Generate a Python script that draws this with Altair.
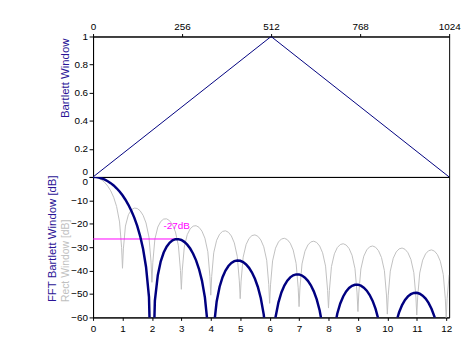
import altair as alt
import pandas as pd

# ---------------- data ----------------
# Top panel: Bartlett window over sample index
win_n = [0, 512, 1024]
win_val = [0.0, 1.0, 0.0]
top_xticks = [0, 256, 512, 768, 1024]
top_yticks = [0, 0.2, 0.4, 0.6, 0.8, 1]

# Bottom panel: rectangular window spectrum [dB] (gray)
rect_x = [0, 0.1, 0.2, 0.3, 0.4, 0.5, 0.6, 0.7, 0.8, 0.9, 0.97,
          1.0, 1.03, 1.1, 1.2, 1.3, 1.4, 1.5, 1.6, 1.7, 1.8, 1.9, 1.97,
          2.0, 2.03, 2.1, 2.2, 2.3, 2.4, 2.5, 2.6, 2.7, 2.8, 2.9, 2.97,
          3.0, 3.03, 3.1, 3.2, 3.3, 3.4, 3.5, 3.6, 3.7, 3.8, 3.9, 3.97,
          4.0, 4.03, 4.1, 4.2, 4.3, 4.4, 4.5, 4.6, 4.7, 4.8, 4.9, 4.97,
          5.0, 5.03, 5.1, 5.2, 5.3, 5.4, 5.5, 5.6, 5.7, 5.8, 5.9, 5.97,
          6.0, 6.03, 6.1, 6.2, 6.3, 6.4, 6.5, 6.6, 6.7, 6.8, 6.9, 6.97,
          7.0, 7.03, 7.1, 7.2, 7.3, 7.4, 7.5, 7.6, 7.7, 7.8, 7.9, 7.97,
          8.0, 8.03, 8.1, 8.2, 8.3, 8.4, 8.5, 8.6, 8.7, 8.8, 8.9, 8.97,
          9.0, 9.03, 9.1, 9.2, 9.3, 9.4, 9.5, 9.6, 9.7, 9.8, 9.9, 9.97,
          10.0, 10.03, 10.1, 10.2, 10.3, 10.4, 10.5, 10.6, 10.7, 10.8, 10.9, 10.97,
          11.0, 11.03, 11.1, 11.2, 11.3, 11.4, 11.5, 11.6, 11.7, 11.8, 11.9, 11.97,
          12.0, 12.03, 12.1]
rect_db = [0.0, -0.14, -0.58, -1.32, -2.42, -3.92, -5.94, -8.68, -12.62, -19.22, -30.21,
           -39.0, -30.73, -20.97, -16.14, -14.06, -13.30, -13.46, -14.46, -16.39, -19.67, -25.72, -36.36,
           -45.0, -36.62, -26.58, -21.41, -19.01, -17.98, -17.90, -18.68, -20.41, -23.50, -29.39, -39.93,
           -48.0, -40.10, -29.97, -24.66, -22.15, -21.01, -20.82, -21.51, -23.14, -26.16, -31.96, -42.45,
           -50.5, -42.58, -32.40, -27.02, -24.45, -23.25, -23.00, -23.64, -25.22, -28.18, -33.94, -44.40,
           -52.0, -44.50, -34.29, -28.88, -26.27, -25.03, -24.75, -25.34, -26.90, -29.83, -35.56, -45.99,
           -54.0, -46.08, -35.85, -30.41, -27.77, -26.50, -26.20, -26.77, -28.30, -31.21, -36.92, -47.33,
           -55.4, -47.41, -37.17, -31.71, -29.05, -27.76, -27.44, -28.00, -29.51, -32.40, -38.09, -48.50,
           -56.0, -48.56, -38.31, -32.84, -30.16, -28.87, -28.53, -29.07, -30.57, -33.45, -39.13, -49.53,
           -57.5, -49.58, -39.32, -33.84, -31.15, -29.84, -29.49, -30.03, -31.52, -34.38, -40.05, -50.44,
           -58.6, -50.50, -40.23, -34.73, -32.04, -30.72, -30.36, -30.89, -32.37, -35.23, -40.89, -51.28,
           -59.0, -51.32, -41.05, -35.54, -32.84, -31.52, -31.15, -31.67, -33.14, -36.00, -41.65, -52.03,
           -61.0, -52.08, -41.80]

# Bottom panel: Bartlett window spectrum [dB] (navy)
bart_x = [0, 0.1, 0.2, 0.3, 0.4, 0.5, 0.6, 0.7, 0.8, 0.9,
          1.0, 1.1, 1.2, 1.3, 1.4, 1.5, 1.6, 1.7, 1.8, 1.9,
          2.0, 2.1, 2.2, 2.3, 2.4, 2.5, 2.6, 2.7, 2.8, 2.9,
          3.0, 3.1, 3.2, 3.3, 3.4, 3.5, 3.6, 3.7, 3.8, 3.9,
          4.0, 4.1, 4.2, 4.3, 4.4, 4.5, 4.6, 4.7, 4.8, 4.9,
          5.0, 5.1, 5.2, 5.3, 5.4, 5.5, 5.6, 5.7, 5.8, 5.9,
          6.0, 6.1, 6.2, 6.3, 6.4, 6.5, 6.6, 6.7, 6.8, 6.9,
          7.0, 7.1, 7.2, 7.3, 7.4, 7.5, 7.6, 7.7, 7.8, 7.9,
          8.0, 8.1, 8.2, 8.3, 8.4, 8.5, 8.6, 8.7, 8.8, 8.9,
          9.0, 9.1, 9.2, 9.3, 9.4, 9.5, 9.6, 9.7, 9.8, 9.9,
          10.0, 10.1, 10.2, 10.3, 10.4, 10.5, 10.6, 10.7, 10.8, 10.9,
          11.0, 11.1, 11.2, 11.3, 11.4, 11.5, 11.6, 11.7, 11.8, 11.9,
          12.0, 12.1]
bart_db = [0.0, -0.06, -0.28, -0.64, -1.16, -1.82, -2.64, -3.64, -4.84, -6.22,
           -7.84, -9.72, -11.88, -14.40, -17.36, -20.90, -25.24, -30.78, -38.44, -51.20,
           -100.0, -52.94, -41.94, -36.02, -32.28, -29.78, -28.12, -27.10, -26.60, -26.56,
           -26.92, -27.72, -28.92, -30.58, -32.78, -35.62, -39.34, -44.28, -51.44, -63.70,
           -100.0, -64.58, -53.16, -46.90, -42.82, -39.98, -38.02, -36.72, -35.96, -35.66,
           -35.80, -36.36, -37.36, -38.82, -40.82, -43.48, -47.00, -51.80, -58.78, -70.90,
           -100.0, -71.48, -59.94, -53.54, -49.32, -46.38, -44.30, -42.88, -42.02, -41.62,
           -41.64, -42.10, -43.02, -44.38, -46.28, -48.86, -52.32, -57.02, -63.92, -75.96,
           -100.0, -76.40, -64.80, -58.32, -54.04, -51.04, -48.90, -47.42, -46.50, -46.04,
           -46.00, -46.42, -47.28, -48.58, -50.44, -52.96, -56.36, -61.02, -67.88, -79.88,
           -100.0, -80.24, -68.58, -62.08, -57.76, -54.70, -52.54, -51.02, -50.06, -49.56,
           -49.50, -49.88, -50.68, -51.96, -53.80, -56.28, -59.66, -64.28, -71.12, -83.08,
           -100.0, -83.38]

bottom_xticks = [0, 1, 2, 3, 4, 5, 6, 7, 8, 9, 10, 11, 12]
bottom_yticks = [-60, -50, -40, -30, -20, -10, 0]

# first side lobe marker
lobe_x0 = [0.0]
lobe_x1 = [2.92]
lobe_db = [-26.5]
lobe_label = ["-27dB"]
lobe_label_x = [2.84]
lobe_label_y = [-20.9]

# ---------------- styles ----------------
FONT = "Arial, Liberation Sans, sans-serif"
NAVY = "#000080"
TITLE_NAVY = "#2a1496"
GRAY = "#c0c0c0"
MAGENTA = "#ff00ff"

# ---------------- top panel ----------------
top_df = pd.DataFrame({"n": win_n, "w": win_val})
top = alt.Chart(top_df).mark_line(color=NAVY, strokeWidth=1, clip=True).encode(
    x=alt.X("n:Q",
            scale=alt.Scale(domain=[0, 1024], nice=False, zero=False),
            axis=alt.Axis(orient="top", values=top_xticks, title=None, format="d",
                          labelFlush=False, tickSize=3, labelPadding=2)),
    y=alt.Y("w:Q",
            scale=alt.Scale(domain=[0, 1], nice=False),
            axis=alt.Axis(values=top_yticks, format="~g", labelFlush=False,
                          tickSize=4, labelPadding=1.5,
                          labelBaseline={"expr": "datum.value == 0 ? 'bottom' : 'middle'"},
                          title="Bartlett Window", titleColor=TITLE_NAVY,
                          titleFontSize=11.5, titleFontWeight="normal",
                          titleAngle=270, titleAlign="left", titleBaseline="middle",
                          titleX=-28, titleY=82)),
).properties(width=360, height=142)

# ---------------- bottom panel ----------------
rect_df = pd.DataFrame({"f": rect_x, "db": rect_db})
bart_df = pd.DataFrame({"f": bart_x, "db": bart_db})
lobe_df = pd.DataFrame({"x0": lobe_x0, "x1": lobe_x1, "db": lobe_db})
label_df = pd.DataFrame({"f": lobe_label_x, "db": lobe_label_y, "t": lobe_label})

xscale = alt.Scale(domain=[0, 12.1], nice=False, zero=False)
yscale = alt.Scale(domain=[-60, 0], nice=False)
xaxis = alt.Axis(values=bottom_xticks, title=None, format="d", labelFlush=False,
                 tickSize=3, labelPadding=3)

rect_line = alt.Chart(rect_df).mark_line(color=GRAY, strokeWidth=1, clip=True).encode(
    x=alt.X("f:Q", scale=xscale, axis=xaxis),
    y=alt.Y("db:Q", scale=yscale,
            axis=alt.Axis(orient="left", labels=False, ticks=False, domain=False,
                          title="Rect Window [dB]", titleColor=GRAY,
                          titleFontSize=10.5, titleFontWeight="normal",
                          titleAngle=270, titleAlign="left", titleBaseline="middle",
                          titleX=-28, titleY=126)),
)

lobe_rule = alt.Chart(lobe_df).mark_rule(color=MAGENTA, strokeWidth=1).encode(
    x=alt.X("x0:Q", scale=xscale, axis=xaxis),
    x2="x1:Q",
    y=alt.Y("db:Q", scale=yscale, axis=None),
)

bart_line = alt.Chart(bart_df).mark_line(color=NAVY, strokeWidth=2.5, clip=True).encode(
    x=alt.X("f:Q", scale=xscale, axis=xaxis),
    y=alt.Y("db:Q", scale=yscale,
            axis=alt.Axis(orient="left", values=bottom_yticks, format="d",
                          labelFlush=False, tickSize=4, labelPadding=1.5,
                          labelBaseline={"expr": "datum.value == 0 ? 'top' : 'middle'"},
                          title="FFT Bartlett Window [dB]", titleColor=TITLE_NAVY,
                          titleFontSize=11.5, titleFontWeight="normal",
                          titleAngle=270, titleAlign="left", titleBaseline="middle",
                          titleX=-41, titleY=126)),
)

lobe_text = alt.Chart(label_df).mark_text(color=MAGENTA, fontSize=10, font=FONT,
                                          align="center", baseline="middle").encode(
    x=alt.X("f:Q", scale=xscale, axis=xaxis),
    y=alt.Y("db:Q", scale=yscale, axis=None),
    text="t:N",
)

bottom = alt.layer(rect_line, lobe_rule, bart_line, lobe_text).resolve_axis(
    y="independent"
).properties(width=360, height=142)

chart = alt.vconcat(top, bottom, spacing=0, bounds="flush").properties(
    padding={"left": 38, "top": 11, "right": 2, "bottom": 2},
    background="white",
).configure_view(
    stroke="black", strokeWidth=1
).configure_axis(
    labelFont=FONT, titleFont=FONT, labelFontSize=10, labelColor="black",
    domainColor="black", tickColor="black", grid=False,
)

chart.save("out.html", embed_options={"renderer": "svg", "actions": False})
